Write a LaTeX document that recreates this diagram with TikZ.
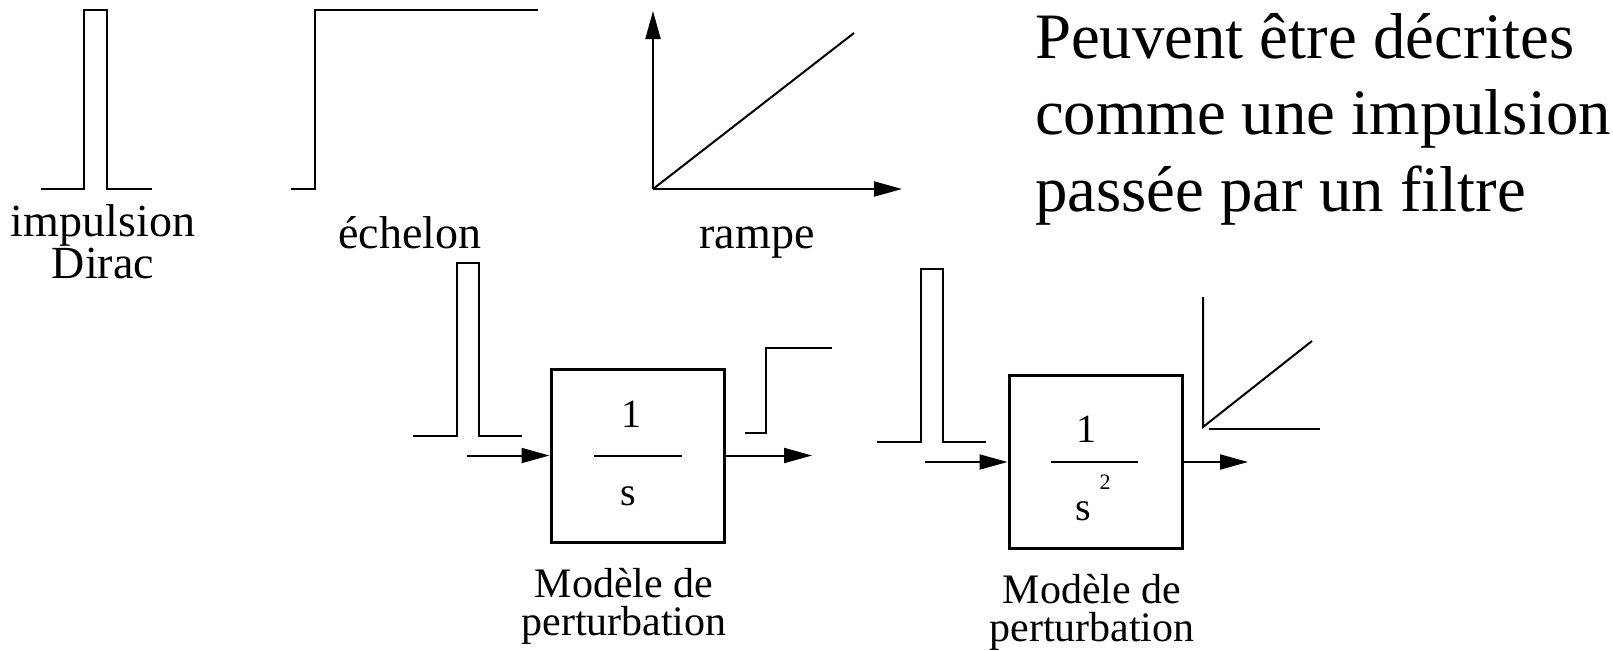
\documentclass[tikz,border=0pt]{standalone}
\usepackage{fontspec}
\setmainfont{Liberation Serif}
\usetikzlibrary{arrows.meta,calc}
% let tightly set label lines keep their baseline distance
\setlength{\lineskiplimit}{-50pt}
\begin{document}
\begin{tikzpicture}[x=0.5pt,y=-0.5pt,line width=1pt,
  sig/.style={line width=1pt,line join=miter},
  flow/.style={-{Triangle[length=14pt,width=7.5pt]},line width=1pt},
  tfbox/.style={draw,line width=1.5pt,minimum width=86.5pt,minimum height=86.5pt,inner sep=0pt},
  toplbl/.style={inner sep=0pt,anchor=base,align=center,
    font=\fontsize{23}{21}\selectfont},
  botlbl/.style={inner sep=0pt,anchor=base,align=center,
    font=\fontsize{21}{19}\selectfont},
  fraclbl/.style={inner sep=0pt,anchor=base,font=\fontsize{20}{24}\selectfont},
  bigtxt/.style={inner sep=0pt,anchor=base west,align=left,
    font=\fontsize{32.4}{38.25}\selectfont}]
\useasboundingbox (0,0) rectangle (1613,650);

% --- standard test signals ---
% Dirac impulse
\draw[sig] (41,189) -- (84,189) -- (84,10) -- (107,10) -- (107,189) -- (152,189);
\node[toplbl] (lblDirac) at (103,278) {impulsion\\Dirac};
% step
\draw[sig] (291,189) -- (315,189) -- (315,10) -- (538,10);
\node[toplbl] (lblStep) at (410,248) {échelon};
% ramp with axes
\coordinate (o) at (653,189);
\coordinate (ytip) at (653,11);
\coordinate (xtip) at (902,189);
\coordinate (rampend) at (854,33);
\draw[flow] (o) -- (ytip);
\draw[flow] (o) -- (xtip);
\draw[sig] (o) -- (rampend);
\node[toplbl] (lblRamp) at (757,248) {rampe};

% --- explanation (anchored on its last line) ---
\node[bigtxt] (expl) at (1034,211) {Peuvent être décrites\\comme une impulsion\\passée par un filtre};

% --- first disturbance model: 1/s ---
\node[tfbox] (b1) at (637.5,455.5) {};
\draw[sig] ($(b1.center)+(-43.5,0)$) -- ($(b1.center)+(44.5,0)$);
\node[fraclbl] (n1) at (631,427) {1};
\node[fraclbl] (d1) at (628,505) {s};
\coordinate (in1) at (467,455.5);
\coordinate (out1) at (812,455.5);
\draw[flow] (in1) -- (b1.west);
\draw[flow] (b1.east) -- (out1);
\draw[sig] (413,436) -- (457,436) -- (457,263) -- (479,263) -- (479,436) -- (522,436);
\draw[sig] (745,433) -- (766,433) -- (766,348) -- (832,348);
\node[botlbl] (lbl1) at (624,635) {Modèle de\\perturbation};

% --- second disturbance model: 1/s^2 ---
\node[tfbox] (b2) at (1095.5,462) {};
\draw[sig] ($(b2.center)+(-44.5,0)$) -- ($(b2.center)+(42.5,0)$);
\node[fraclbl] (n2) at (1086,442) {1};
\node[fraclbl] (d2) at (1083,520) {s};
\node[inner sep=0pt,anchor=base,font=\fontsize{11}{13}\selectfont] (e2) at (1105,489) {2};
\coordinate (in2) at (925,462);
\coordinate (out2) at (1248,462);
\draw[flow] (in2) -- (b2.west);
\draw[flow] (b2.east) -- (out2);
\draw[sig] (877,442) -- (921,442) -- (921,269) -- (943,269) -- (943,442) -- (986,442);
\draw[sig] (1203,297) -- (1203,427) -- (1312,341);
\draw[sig] (1209,429) -- (1320,429);
\node[botlbl] (lbl2) at (1092,641) {Modèle de\\perturbation};
\end{tikzpicture}
\end{document}
